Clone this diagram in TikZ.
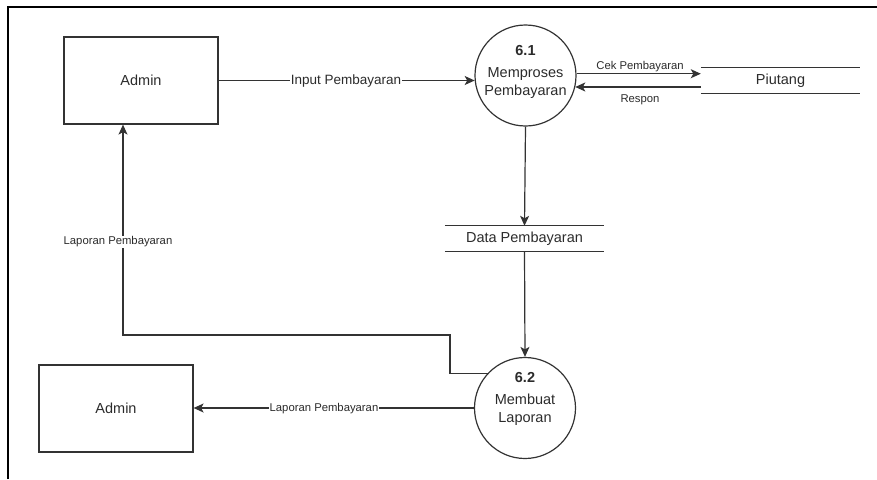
\documentclass[tikz,border=0pt]{standalone}
\usepackage{fontspec}
\setmainfont{Liberation Sans}
\usetikzlibrary{arrows.meta}
\definecolor{ln}{HTML}{333333}
\definecolor{tx}{HTML}{2B2B2B}
\tikzset{
  ent/.style={draw=ln, line width=1.2pt, minimum width=154pt, minimum height=87pt, inner sep=0pt, text=tx, font=\fontsize{14.5}{17}\selectfont},
  proc/.style={draw=ln, line width=1.2pt, circle, minimum size=101pt, inner sep=0pt},
  ptext/.style={align=center, text=tx, font=\fontsize{14.5}{18}\selectfont, inner sep=0pt},
  store/.style={minimum width=159pt, minimum height=25pt, inner sep=0pt, text=tx, font=\fontsize{14.5}{17}\selectfont},
  sline/.style={draw=ln, line width=1.2pt},
  flow/.style={draw=ln, line width=1.2pt, -{Stealth[length=10pt,width=9pt,inset=2.5pt]}},
  lab/.style={text=tx, font=\fontsize{11.3}{13}\selectfont, inner sep=1pt},
  labw/.style={lab, fill=white},
}
\begin{document}
\begin{tikzpicture}[x=1pt,y=-1pt]
\useasboundingbox (0,0) rectangle (877,479);
% frame
\draw[line width=2pt, black] (8,479) -- (8,6.5) -- (877,6.5);

% entities
\node[ent] (admin1) at (141,80.5) {Admin};
\node[ent] (admin2) at (116,408.5) {Admin};

% processes
\node[proc] (p61) at (525.5,75.5) {};
\node[ptext] (t61) at (525.5,72) {\textbf{6.1}\\[4pt]Memproses\\Pembayaran};
\node[proc] (p62) at (525,408) {};
\node[ptext] (t62) at (525,399) {\textbf{6.2}\\[4pt]Membuat\\Laporan};

% data stores
\node[store] (piutang) at (780.5,80.5) {Piutang};
\draw[sline] (piutang.north west) -- (piutang.north east);
\draw[sline] (piutang.south west) -- (piutang.south east);
\node[store] (data) at (524.5,238.5) {Data Pembayaran};
\draw[sline] (data.north west) -- (data.north east);
\draw[sline] (data.south west) -- (data.south east);

% flows
\draw[flow] (admin1.east) -- (admin1.east -| p61.186) coordinate (inEnd);
\node[labw, font=\fontsize{13.5}{15}\selectfont] (lInput) at (346,81) {Input Pembayaran};

\draw[flow] (p61.2) -- (p61.2 -| piutang.west);
\node[lab] (lCek) at (640,67) {Cek Pembayaran};
\draw[flow] (p61.-13 -| piutang.west) -- (p61.-13);
\node[lab] (lRespon) at (640,99.5) {Respon};

\draw[flow] (p61.south) -- (data.north);
\draw[flow] (data.south) -- (p62.north);

\coordinate (bend1) at (450,335);
\draw[flow] (p62.137) -| (bend1) -| ([xshift=-18pt]admin1.south);
\node[labw] (lLap1) at (118,242) {Laporan Pembayaran};

\draw[flow] (p62.west) -- (p62.west -| admin2.east);
\node[labw] (lLap2) at (324,409) {Laporan Pembayaran};
\end{tikzpicture}
\end{document}
